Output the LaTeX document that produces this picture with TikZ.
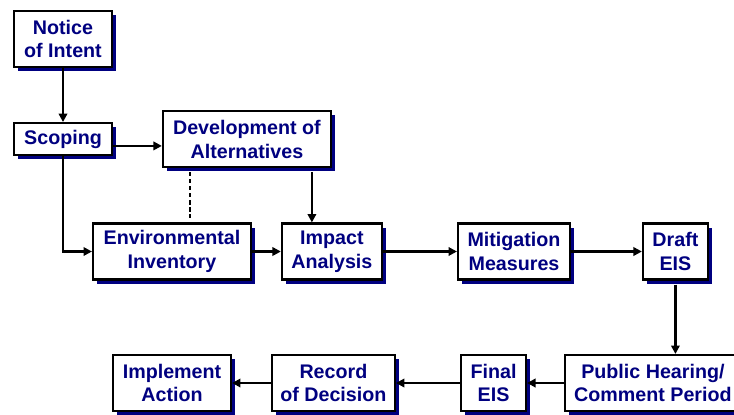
\documentclass[tikz,border=0pt]{standalone}
\usepackage{fontspec}
\setmainfont{Liberation Sans}
\usetikzlibrary{positioning, shadows, arrows.meta}
\definecolor{eisnavy}{RGB}{0,0,128}
\tikzstyle{arrow} = [
    line width=2pt,
    -{Triangle[length=6pt,width=6pt]},
    draw=black
]

\begin{document}
\begin{tikzpicture}[
    stage/.style={
        rectangle,
        draw=black,
        line width=1.5pt,
        fill=white,
        minimum height=1.4cm,
        align=center,
        inner sep=2pt,
        text=eisnavy,
        font=\fontsize{14}{17}\selectfont\bfseries,
        drop shadow={shadow xshift=0.1cm, shadow yshift=-0.1cm, fill=eisnavy, opacity=1}
    },
    link/.style={line width=1.5pt, dash pattern=on 3pt off 2pt}
]

% Frame
\useasboundingbox (0,0) rectangle (18.35,-10.35);
\clip (0,0) rectangle (18.35,-10.35);

% Start and scoping
\node[stage, minimum width=2.45cm] (notice) at (1.575,-0.975) {Notice\\of Intent};
\node[stage, minimum width=2.45cm, minimum height=0.8cm, below=1.35cm of notice] (scoping) {Scoping};
\node[stage, minimum width=4.2cm, right=1.22cm of scoping] (dev) {Development of\\Alternatives};

% Analysis row
\node[stage, minimum width=3.95cm] (envinv) at (4.3,-6.2875) {Environmental\\Inventory};
\node[stage, minimum width=2.5cm, right=0.72cm of envinv] (impact) {Impact\\Analysis};
\node[stage, minimum width=2.8cm, right=1.85cm of impact] (mitig) {Mitigation\\Measures};
\node[stage, minimum width=1.625cm, right=1.77cm of mitig] (draft) {Draft\\EIS};

% Decision row
\node[stage, minimum width=2.95cm] (implement) at (4.3,-9.575) {Implement\\Action};
\node[stage, minimum width=3.075cm, right=0.97cm of implement] (record) {Record\\of Decision};
\node[stage, minimum width=1.625cm, right=1.6cm of record] (final) {Final\\EIS};
\node[stage, minimum width=4.4cm, right=0.92cm of final] (public) {Public Hearing/\\Comment Period};

\coordinate (invlink) at ([xshift=0.45cm]envinv.north);
\coordinate (devdrop) at ([xshift=-0.5cm]impact.north);

% Arrows
\draw[arrow] (notice) -- (scoping);
\draw[arrow] ([yshift=-0.17cm]scoping.east) -- ([yshift=-0.17cm]scoping.east -| dev.west);
\draw[arrow] (scoping.south) |- (envinv.west);
\draw[link] ([yshift=-0.1cm]invlink |- dev.south) -- ([yshift=0.1cm]invlink);
\draw[arrow] ([yshift=-0.1cm]devdrop |- dev.south) -- (devdrop);
\draw[arrow] (envinv) -- (impact);
\draw[arrow] (impact) -- (mitig);
\draw[arrow] (mitig) -- (draft);
\draw[arrow] ([yshift=-0.1cm]draft.south) -- (draft.south |- public.north);
\draw[arrow] (public) -- (final);
\draw[arrow] (final) -- (record);
\draw[arrow] (record) -- (implement);

\end{tikzpicture}
\end{document}
